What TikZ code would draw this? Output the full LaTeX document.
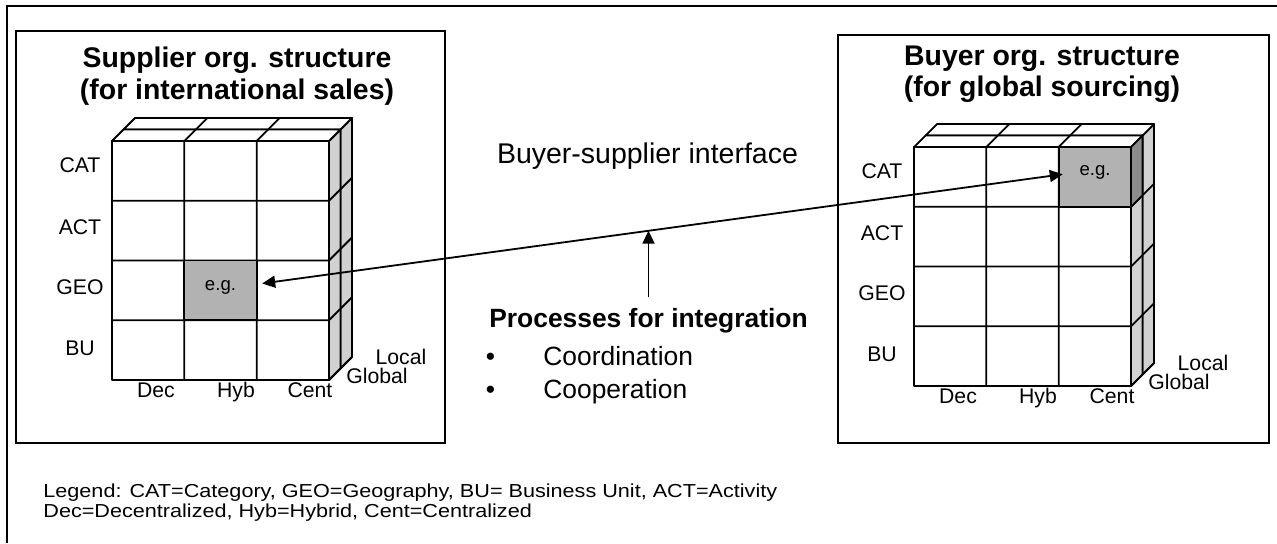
\documentclass[tikz,border=0pt]{standalone}
\usepackage{fontspec}
\setmainfont{Liberation Sans}
\usetikzlibrary{arrows.meta,positioning,calc}
\definecolor{sidegray}{gray}{0.82}
\definecolor{cellgray}{gray}{0.70}
\definecolor{celldark}{gray}{0.55}

\tikzset{
  box/.style = {draw, line width=1pt},
  grid/.style = {draw, line width=0.9pt, line join=round},
  side/.style = {grid, fill=sidegray},
  lid/.style = {grid, fill=white},
  lab/.style = {font=\fontsize{10.6}{12}\selectfont, anchor=base, inner sep=0pt},
  eg/.style = {font=\fontsize{9.3}{11}\selectfont, inner sep=0pt},
  ttl/.style = {font=\fontsize{14.2}{15.75}\selectfont\bfseries, align=center},
  mid/.style = {font=\fontsize{13.2}{15}\selectfont, anchor=base, inner sep=0pt},
  legend/.style = {font=\fontsize{9.4}{11}\selectfont, anchor=base west, inner sep=0pt},
  link/.style = {line width=0.9pt},
  >={Triangle[length=6.5pt,width=6pt]}
}

% layered cube, #1 = prefix of its node names
\newcommand{\orgcube}[1]{
  \filldraw[side] (228.5,-11.5) -- (240,-23) -- (240,216) -- (228.5,227.5) -- cycle;
  \filldraw[lid] (11.5,-11.5) -- (23,-23) -- (240,-23) -- (228.5,-11.5) -- cycle;
  \filldraw[side] (217,0) -- (228.5,-11.5) -- (228.5,227.5) -- (217,239) -- cycle;
  \filldraw[lid] (0,0) -- (11.5,-11.5) -- (228.5,-11.5) -- (217,0) -- cycle;
  \filldraw[lid] (0,0) rectangle (217,239);
  \foreach \cx in {72.33,144.67}
    \draw[grid] (\cx,239) -- (\cx,0) -- ++(23,-23);
  \foreach \ry in {59.75,119.5,179.25}
    \draw[grid] (0,\ry) -- (217,\ry) -- ++(23,-23);
  \draw[grid] (217,239) -- ++(23,-23);
  \foreach \txt/\nm/\ry in {CAT/cat/31, ACT/act/93, GEO/geo/153, BU/bu/214}
    \node[lab] (#1\nm) at (-32,\ry) {\txt};
  \foreach \txt/\nm/\cx in {Dec/dec/44, Hyb/hyb/124, Cent/cent/198}
    \node[lab] (#1\nm) at (\cx,256.5) {\txt};
  \node[lab] (#1loc) at (289,223) {Local};
  \node[lab] (#1glo) at (265,242) {Global};
}

\begin{document}
\begin{tikzpicture}[x=0.5pt, y=-0.5pt]
\useasboundingbox (0,0) rectangle (1277,543);
\draw[box] (1277,6) -- (7,6) -- (7,543);

% supplier
\draw[box] (16,31) rectangle (445,443);
\node[ttl] (supttl) at (237,76) {Supplier org. structure\\(for international sales)};
\begin{scope}[shift={(112,141)}]
  \orgcube{s}
  \filldraw[grid, fill=cellgray] (72.33,119.5) rectangle (144.67,179.25);
  \node[eg] (egS) at (108.5,146) {e.g.};
\end{scope}

% buyer
\draw[box] (838,35) rectangle (1269,443);
\node[ttl] (buyttl) at (1042,74) {Buyer org. structure\\(for global sourcing)};
\begin{scope}[shift={(914,147)}]
  \orgcube{b}
  \filldraw[grid, fill=celldark] (217,0) -- (228.5,-11.5) -- (228.5,48.25) -- (217,59.75) -- cycle;
  \filldraw[grid, fill=cellgray] (144.67,0) rectangle (217,59.75);
  \node[eg] (egB) at (181,25) {e.g.};
\end{scope}

% interface
\node[mid, font=\fontsize{14.25}{16}\selectfont] (iface) at (647.5,163) {Buyer-supplier interface};
\draw[link, <->, shorten <=13pt, shorten >=8.25pt] (egS.east) -- coordinate[pos=0.49] (hit) (egB.west);
\node[mid, font=\fontsize{13.2}{15}\selectfont\bfseries, inner sep=5pt] (proc) at (648.5,327) {Processes for integration};
\draw[link, ->] (proc.north) -- (proc.north |- hit);
\node[mid, anchor=base west] (coord) at (485.5,365) {\makebox[28.75pt][l]{\textbullet}Coordination};
\node[mid, anchor=base west] (coop) at (485.5,398) {\makebox[28.75pt][l]{\textbullet}Cooperation};

% legend
\node[legend] (leg1) at (43,497) {\scalebox{1.15}[1]{Legend: CAT=Category, GEO=Geography, BU= Business Unit, ACT=Activity}};
\node[legend] (leg2) at (43,517) {\scalebox{1.15}[1]{Dec=Decentralized, Hyb=Hybrid, Cent=Centralized}};
\end{tikzpicture}
\end{document}
